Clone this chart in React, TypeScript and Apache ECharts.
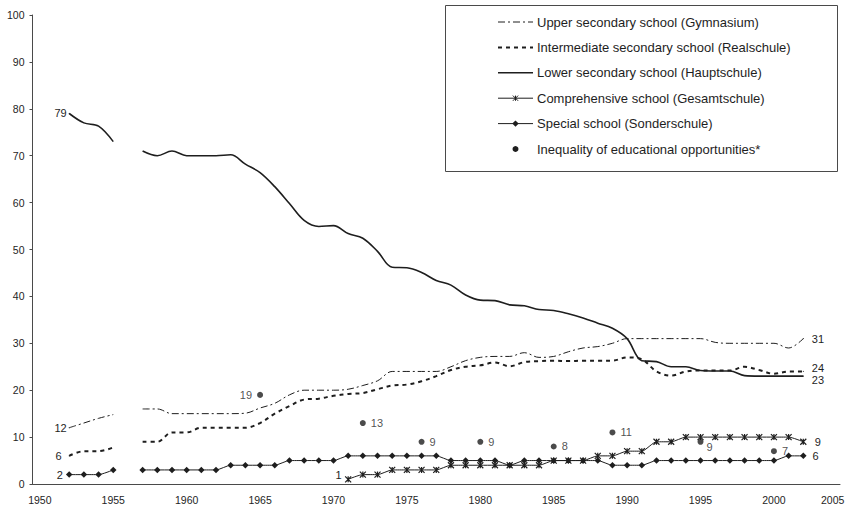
import React, { useEffect, useRef } from "react";
import * as echarts from "echarts";

// Category axis (Excel-style bands); the table skips 2004 and ends with 2005
const years = [
  "1950", "1951", "1952", "1953", "1954", "1955", "1956", "1957", "1958", "1959",
  "1960", "1961", "1962", "1963", "1964", "1965", "1966", "1967", "1968", "1969",
  "1970", "1971", "1972", "1973", "1974", "1975", "1976", "1977", "1978", "1979",
  "1980", "1981", "1982", "1983", "1984", "1985", "1986", "1987", "1988", "1989",
  "1990", "1991", "1992", "1993", "1994", "1995", "1996", "1997", "1998", "1999",
  "2000", "2001", "2002", "2003", "2005",
];

// Upper secondary school (Gymnasium)
const upperSecondary = [
  null, null, 12, 13, 14, 14.8, null, 16, 16, 15,
  15, 15, 15, 15, 15.1, 16.2, 17.2, 19, 20, 20,
  20, 20.2, 21, 22, 24, 24, 24, 24, 25, 26.3,
  27, 27.2, 27.2, 28, 27, 27.2, 28.2, 29, 29.3, 30,
  31, 31, 31, 31, 31, 31, 30.2, 30, 30, 30,
  30, 29, 31, null, null,
];

// Intermediate secondary school (Realschule)
const intermediateSecondary = [
  null, null, 6, 7, 7, 7.8, null, 9, 9, 11,
  11, 12, 12, 12, 12, 13, 15, 16.6, 18, 18.2,
  18.8, 19.2, 19.4, 20.2, 21, 21.2, 21.9, 23, 24.3, 25,
  25.3, 25.9, 25.1, 26, 26.2, 26.3, 26.2, 26.3, 26.3, 26.3,
  27, 26.6, 24, 23.1, 24, 24.2, 24.2, 24.2, 25, 24.3,
  23.5, 24, 24, null, null,
];

// Lower secondary school (Hauptschule)
const lowerSecondary = [
  null, null, 79, 77, 76.3, 73, null, 71, 70, 71,
  70, 70, 70, 70.2, 68.2, 66.4, 63.4, 59.8, 56.2, 54.9,
  55.1, 53.4, 52.4, 49.6, 46.2, 46.1, 45.1, 43.4, 42.4, 40.3,
  39.2, 39.1, 38.2, 38, 37.2, 37, 36.3, 35.4, 34.3, 33.2,
  31, 26.3, 26.1, 25, 25, 24.2, 24.1, 24.1, 23.1, 23,
  23, 23, 23, null, null,
];

// Comprehensive school (Gesamtschule)
const comprehensive = [
  null, null, null, null, null, null, null, null, null, null,
  null, null, null, null, null, null, null, null, null, null,
  null, 1, 2, 2, 3, 3, 3, 3, 4, 4,
  4, 4, 4, 4, 4, 5, 5, 5, 6, 6,
  7, 7, 9, 9, 10, 10, 10, 10, 10, 10,
  10, 10, 9, null, null,
];

// Special school (Sonderschule)
const special = [
  null, null, 2, 2, 2, 3, null, 3, 3, 3,
  3, 3, 3, 4, 4, 4, 4, 5, 5, 5,
  5, 6, 6, 6, 6, 6, 6, 6, 5, 5,
  5, 5, 4, 5, 5, 5, 5, 5, 5, 4,
  4, 4, 5, 5, 5, 5, 5, 5, 5, 5,
  5, 6, 6, null, null,
];

// Inequality of educational opportunities*
const inequalityYears = ["1965", "1972", "1976", "1980", "1985", "1989", "1995", "2000"];
const inequalityValues = [19, 13, 9, 9, 8, 11, 9, 7];

const legendNames = [
  "Upper secondary school (Gymnasium)",
  "Intermediate secondary school (Realschule)",
  "Lower secondary school (Hauptschule)",
  "Comprehensive school (Gesamtschule)",
  "Special school (Sonderschule)",
  "Inequality of educational opportunities*",
];

const FONT = "'Liberation Sans', Arial, Helvetica, sans-serif";
const INK = "#1e1e1e";
const AXIS = "#4a4a4a";

const labelBase = {
  show: true,
  fontSize: 11,
  color: INK,
  fontFamily: FONT,
  textBorderWidth: 0,
  textShadowBlur: 0,
};

function withEndLabels(
  values: (number | null)[],
  startLabel: any,
  endLabel: any,
  endpointSymbol: boolean
) {
  let first = -1;
  let last = -1;
  values.forEach((v, i) => {
    if (v != null) {
      if (first < 0) first = i;
      last = i;
    }
  });
  return values.map((v, i) => {
    if (v == null) return null;
    if (i === first || i === last) {
      const item: any = { value: v, label: { ...labelBase, ...(i === first ? startLabel : endLabel) } };
      if (endpointSymbol) {
        item.symbol = "circle";
        item.symbolSize = 1;
      }
      return item;
    }
    return v;
  });
}

const inequalityLabels: any[] = [
  { position: "left", distance: 5 },
  { position: "right", distance: 5 },
  { position: "right", distance: 5 },
  { position: "right", distance: 5 },
  { position: "right", distance: 5 },
  { position: "right", distance: 5 },
  { position: "right", distance: 3, offset: [0, 5] },
  { position: "right", distance: 5 },
];

const STAR = "path://M0,0L10,10M10,0L0,10M5,0L5,10";

function buildLegend() {
  const x0 = 498;
  const x1 = 533;
  const xm = (x0 + x1) / 2;
  const tx = 537;
  const rows = [22, 47.4, 72.8, 98.2, 123.6, 149];
  const els: any[] = [
    {
      type: "rect",
      shape: { x: 445.5, y: 5.5, width: 392, height: 166 },
      style: { fill: "#fff", stroke: AXIS, lineWidth: 1 },
      z: 10,
    },
  ];
  const lineStyles: any[] = [
    { stroke: INK, lineWidth: 1, lineDash: [7, 3, 2, 3] },
    { stroke: INK, lineWidth: 2, lineDash: [4, 4] },
    { stroke: INK, lineWidth: 1.6 },
    { stroke: INK, lineWidth: 1 },
    { stroke: INK, lineWidth: 1 },
  ];
  rows.forEach((y, i) => {
    if (i < 5) {
      els.push({
        type: "line",
        shape: { x1: x0, y1: y, x2: x1, y2: y },
        style: lineStyles[i],
        z: 11,
      });
    }
    if (i === 3) {
      const r = 2.6;
      els.push(
        { type: "line", shape: { x1: xm - r, y1: y - r, x2: xm + r, y2: y + r }, style: { stroke: INK, lineWidth: 1 }, z: 12 },
        { type: "line", shape: { x1: xm - r, y1: y + r, x2: xm + r, y2: y - r }, style: { stroke: INK, lineWidth: 1 }, z: 12 },
        { type: "line", shape: { x1: xm, y1: y - r, x2: xm, y2: y + r }, style: { stroke: INK, lineWidth: 1 }, z: 12 }
      );
    }
    if (i === 4) {
      els.push({
        type: "polygon",
        shape: { points: [[xm, y - 3.2], [xm + 3.2, y], [xm, y + 3.2], [xm - 3.2, y]] },
        style: { fill: INK },
        z: 12,
      });
    }
    if (i === 5) {
      els.push({ type: "circle", shape: { cx: xm, cy: y, r: 3 }, style: { fill: INK }, z: 12 });
    }
    els.push({
      type: "text",
      x: tx,
      y: y,
      style: {
        text: legendNames[i],
        font: `13px ${FONT}`,
        fill: INK,
        textVerticalAlign: "middle",
        verticalAlign: "middle",
      },
      z: 12,
    });
  });
  return els;
}

export default function App() {
  const ref = useRef<HTMLDivElement>(null);

  useEffect(() => {
    if (!ref.current) return;
    const chart = echarts.init(ref.current, undefined, { renderer: "svg" });

    const inequalityData = years.map((y) => {
      const k = inequalityYears.indexOf(y);
      if (k < 0) return null;
      return { value: inequalityValues[k], label: { ...labelBase, ...inequalityLabels[k] } };
    });

    chart.setOption({
      animation: false,
      backgroundColor: "#fff",
      textStyle: { fontFamily: FONT, color: INK },
      grid: { left: 32.5, right: 9, top: 15, bottom: 25, containLabel: false },
      xAxis: {
        type: "category",
        data: years,
        boundaryGap: true,
        axisLine: { lineStyle: { color: AXIS, width: 1 } },
        axisTick: { interval: 0, length: 3, lineStyle: { color: AXIS } },
        axisLabel: {
          interval: (_i: number, v: string) => Number(v) % 5 === 0,
          fontSize: 10.5,
          color: INK,
          fontFamily: FONT,
          margin: 10,
        },
        splitLine: { show: false },
      },
      yAxis: {
        type: "value",
        min: 0,
        max: 100,
        interval: 10,
        axisLine: { show: true, lineStyle: { color: AXIS, width: 1 } },
        axisTick: { show: true, length: 3, lineStyle: { color: AXIS } },
        axisLabel: { fontSize: 10.5, color: INK, fontFamily: FONT, margin: 8 },
        splitLine: { show: false },
      },
      series: [
        {
          name: legendNames[0],
          type: "line",
          data: withEndLabels(
            upperSecondary,
            { position: "left", distance: 2 },
            { position: "right", distance: 8 },
            true
          ),
          symbol: "none",
          smooth: 0.35,
          label: { color: INK },
          lineStyle: { color: INK, width: 1, type: [7, 3, 2, 3] },
          itemStyle: { color: INK },
        },
        {
          name: legendNames[1],
          type: "line",
          data: withEndLabels(
            intermediateSecondary,
            { position: "left", distance: 7 },
            { position: "right", distance: 8, offset: [0, -3] },
            true
          ),
          symbol: "none",
          smooth: 0.35,
          label: { color: INK },
          lineStyle: { color: INK, width: 2, type: [4, 4] },
          itemStyle: { color: INK },
        },
        {
          name: legendNames[2],
          type: "line",
          data: withEndLabels(
            lowerSecondary,
            { position: "left", distance: 2 },
            { position: "right", distance: 8, offset: [0, 4] },
            true
          ),
          symbol: "none",
          smooth: 0.35,
          label: { color: INK },
          lineStyle: { color: INK, width: 1.6 },
          itemStyle: { color: INK },
        },
        {
          name: legendNames[3],
          type: "line",
          data: withEndLabels(
            comprehensive,
            { position: "left", distance: 1, offset: [0, -4] },
            { position: "right", distance: 6 },
            false
          ),
          symbol: STAR,
          symbolSize: 6,
          smooth: 0.2,
          label: { color: INK },
          lineStyle: { color: INK, width: 1 },
          itemStyle: { color: "none", borderColor: INK, borderWidth: 1.2 },
        },
        {
          name: legendNames[4],
          type: "line",
          data: withEndLabels(
            special,
            { position: "left", distance: 3 },
            { position: "right", distance: 6 },
            false
          ),
          symbol: "diamond",
          symbolSize: 6.5,
          smooth: 0.2,
          label: { color: INK },
          lineStyle: { color: INK, width: 1 },
          itemStyle: { color: INK, borderWidth: 0 },
        },
        {
          name: legendNames[5],
          type: "scatter",
          data: inequalityData,
          symbol: "circle",
          symbolSize: 6,
          label: { color: INK },
          itemStyle: { color: INK },
        },
      ],
      graphic: buildLegend(),
    });

    return () => chart.dispose();
  }, []);

  return (
    <div
      ref={ref}
      style={{ position: "absolute", left: 0, top: 0, width: 849, height: 509, background: "#fff" }}
    />
  );
}
